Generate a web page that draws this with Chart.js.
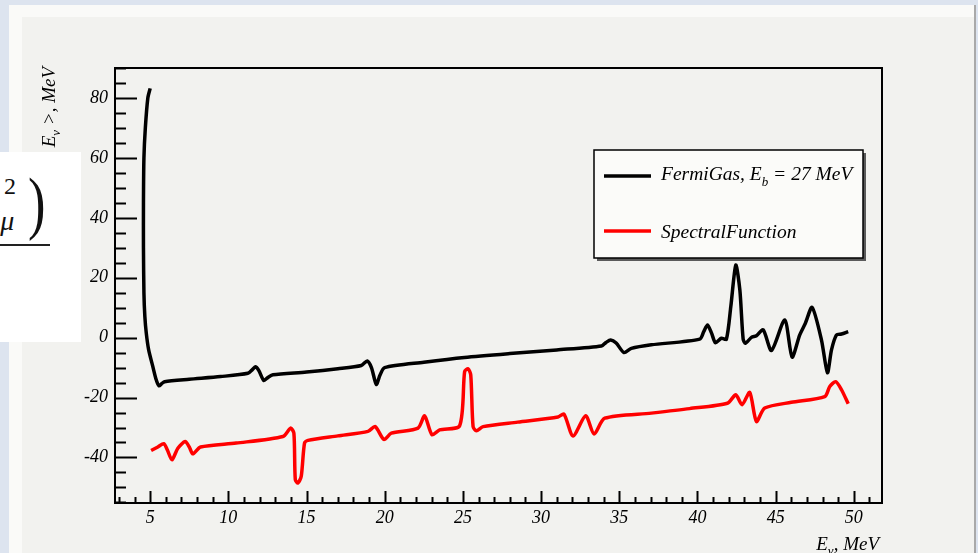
<!DOCTYPE html>
<html><head><meta charset="utf-8">
<script src="https://cdn.jsdelivr.net/npm/chart.js@4.4.1/dist/chart.umd.min.js"></script>
<style>
html,body{margin:0;padding:0;}
body{background:#dde4ef;width:978px;height:553px;overflow:hidden;position:relative;}
#panel{position:absolute;left:9px;top:5px;width:966px;height:548px;background:#fafaf8;}
#inner{position:absolute;left:22px;top:17px;width:952px;height:536px;background:#f2f2ef;}
#rbar{position:absolute;left:974px;top:5px;width:2px;height:548px;background:#a9a9a9;}
#cv{position:absolute;left:0;top:0;}
#ov{position:absolute;left:0;top:152px;width:81px;height:190px;background:#fff;overflow:hidden;font-family:"Liberation Serif",serif;color:#111;}
#ov span{position:absolute;line-height:1;white-space:nowrap;}
#ov .fr{position:absolute;left:0;top:92px;width:50px;height:1.5px;background:#222;}
</style>
</head><body>
<div id="panel"></div><div id="inner"></div><div id="rbar"></div>
<canvas id="cv" width="978" height="553"></canvas>
<div id="ov">
  <span style="left:4px;top:22px;font-size:24px;">2</span>
  <span style="left:-9px;top:55px;font-size:28px;">(<i>μ</i></span>
  <span style="left:25px;top:16px;font-size:70px;transform:scaleX(0.75);">)</span>
  <div class="fr"></div>
</div>
<script>
// ---- data ----
const fermiX = [5.0,4.85,4.69,4.6,4.57,4.57,4.6,4.66,4.75,4.9,5.17,5.38,5.56,5.75,5.92,7.5,9.5,11.25,11.55,11.74,11.95,12.27,12.55,12.85,15,17,18.5,18.88,19.15,19.46,19.7,19.99,22.5,25.1,28,31,33.86,34.15,34.45,34.8,35.3,35.77,37.05,40.14,40.4,40.64,40.9,41.15,41.53,41.85,42.13,42.45,42.71,42.92,43.07,43.45,43.77,44.2,44.73,45.58,46.05,46.54,46.9,47.33,47.93,48.31,48.57,48.89,49.21,49.64];
const fermiY = [83.2,80,70,60,45,30,15,7,1.5,-4,-9.7,-14,-16.1,-15.3,-14.7,-13.9,-13,-11.9,-10.6,-9.7,-11,-14.3,-13.2,-12.4,-11.5,-10.4,-9.3,-7.8,-10,-15.6,-12.5,-10,-8.2,-6.6,-5.3,-4.1,-2.8,-1.6,-0.8,-1.8,-5,-3.6,-2.4,-0.5,2,4.2,1.5,-1.7,-0.2,-0.5,10.3,24.2,15.9,-0.5,-1.9,0.1,0.6,2.6,-4.3,5.9,-6.5,0.9,4.8,10.1,-0.8,-11.7,-4.1,0.9,1.2,2.0];
const spectralX = [5.06,5.49,5.87,6.1,6.39,6.77,7.24,7.5,7.73,8.22,10.5,13.49,13.98,14.19,14.28,14.45,14.66,14.87,15.09,17,18.93,19.39,19.95,20.42,22.13,22.55,23.02,23.51,24.79,25.11,25.33,25.5,25.65,25.86,26.29,28.5,31.08,31.46,32.04,32.85,33.39,34.07,37.05,39.5,41.91,42.45,42.85,43.34,43.77,44.3,46,48.14,48.46,48.84,49.21,49.64];
const spectralY = [-37.7,-36.5,-35.4,-37.5,-40.8,-36.9,-34.7,-36.5,-38.8,-36.5,-35.2,-33,-30.2,-31.9,-47.4,-48.5,-46.3,-35.2,-34.3,-32.8,-31.3,-29.7,-34,-31.9,-30.2,-26.1,-32.4,-30.8,-29.4,-11.3,-10.4,-12.4,-29.7,-31.1,-29.7,-28.2,-26.5,-25.5,-32.8,-26.1,-32.2,-26.9,-25.2,-23.7,-21.9,-19.1,-22.4,-18.3,-28,-23.5,-21.6,-19.7,-16.3,-14.7,-17.4,-22.1];
const xTickLabels = [5,10,15,20,25,30,35,40,45,50];
const yTickLabels = [-40,-20,0,20,40,60,80];
const seriesNames = ["FermiGas, E", "SpectralFunction"];
const xTitle = "E";
const yTitle = "< E";

const SERIF = '"Liberation Serif", "Times New Roman", serif';
const toPts = (xs, ys) => xs.map((x, i) => ({x: x, y: ys[i]}));

function drawParts(ctx, parts, x, y, align) {
  let total = 0;
  parts.forEach(p => { ctx.font = 'italic ' + p[1] + 'px ' + SERIF; total += ctx.measureText(p[0]).width; });
  let cx = align === 'right' ? x - total : x;
  ctx.textAlign = 'left';
  parts.forEach(p => {
    ctx.font = 'italic ' + p[1] + 'px ' + SERIF;
    ctx.fillText(p[0], cx, y + p[2]);
    cx += ctx.measureText(p[0]).width;
  });
}

const rootStyle = {
  id: 'rootStyle',
  afterDraw(chart) {
    const ctx = chart.ctx, a = chart.chartArea;
    const xs = chart.scales.x, ys = chart.scales.y;
    ctx.save();
    ctx.strokeStyle = '#000';
    ctx.fillStyle = '#000';
    ctx.lineWidth = 2;
    ctx.strokeRect(a.left, a.top, a.right - a.left, a.bottom - a.top);
    ctx.beginPath();
    for (let v = Math.ceil(xs.min); v <= xs.max; v++) {
      const px = Math.round(xs.getPixelForValue(v)) + 0.5;
      const len = (v % 5 === 0) ? 12 : 6;
      ctx.moveTo(px, a.bottom); ctx.lineTo(px, a.bottom - len);
    }
    for (let v = Math.ceil(ys.min / 5) * 5; v <= ys.max; v += 5) {
      const py = Math.round(ys.getPixelForValue(v)) + 0.5;
      const len = (v % 20 === 0) ? 22 : 11;
      ctx.moveTo(a.left, py); ctx.lineTo(a.left + len, py);
    }
    ctx.stroke();

    const L = 594, T = 150, R = 863, B = 258;
    ctx.fillStyle = '#5a5a5a';
    ctx.fillRect(L + 3, T + 3, R - L, B - T);
    ctx.fillStyle = '#fbfbf9';
    ctx.fillRect(L, T, R - L, B - T);
    ctx.lineWidth = 1.5;
    ctx.strokeStyle = '#000';
    ctx.strokeRect(L, T, R - L, B - T);
    const ds = chart.data.datasets;
    ctx.lineWidth = 3.5;
    ctx.strokeStyle = ds[0].borderColor;
    ctx.beginPath(); ctx.moveTo(604, 176); ctx.lineTo(651, 176); ctx.stroke();
    ctx.strokeStyle = ds[1].borderColor;
    ctx.beginPath(); ctx.moveTo(604, 231); ctx.lineTo(651, 231); ctx.stroke();
    ctx.fillStyle = '#000';
    ctx.textBaseline = 'alphabetic';
    drawParts(ctx, [[seriesNames[0], 19.5, 0], ['b', 13, 6], [' = 27 MeV', 19.5, 0]], 661, 180, 'left');
    drawParts(ctx, [[seriesNames[1], 19.5, 0]], 661, 238, 'left');

    drawParts(ctx, [[xTitle, 19, 0], ['\u03BD', 13, 5], [', MeV', 19, 0]], 879, 550, 'right');
    ctx.translate(55, 67);
    ctx.rotate(-Math.PI / 2);
    drawParts(ctx, [[yTitle, 19, 0], ['\u03BD', 13, 5], [' >, MeV', 19, 0]], 0, 0, 'right');
    ctx.restore();
  }
};

const tickFont = {family: SERIF, style: 'italic', size: 18};

new Chart(document.getElementById('cv'), {
  type: 'scatter',
  data: {
    datasets: [
      {label: 'FermiGas, Eb = 27 MeV', data: toPts(fermiX, fermiY), showLine: true, borderColor: '#000000', borderWidth: 3.5, pointRadius: 0, tension: 0.25, fill: false},
      {label: 'SpectralFunction', data: toPts(spectralX, spectralY), showLine: true, borderColor: '#ff0000', borderWidth: 3.5, pointRadius: 0, tension: 0.25, fill: false}
    ]
  },
  options: {
    responsive: false,
    animation: false,
    layout: {padding: {top: 68, right: 96, left: 0, bottom: 0}},
    plugins: {legend: {display: false}, tooltip: {enabled: false}},
    scales: {
      x: {
        type: 'linear', min: 2.75, max: 51.8,
        afterBuildTicks: s => { s.ticks = xTickLabels.map(v => ({value: v})); },
        afterFit: s => { s.height = 50; },
        grid: {display: false, drawTicks: false},
        border: {display: false},
        ticks: {font: tickFont, color: '#000', padding: 4, maxRotation: 0, autoSkip: false, callback: v => String(v)}
      },
      y: {
        type: 'linear', min: -55.2, max: 90,
        afterBuildTicks: s => { s.ticks = yTickLabels.map(v => ({value: v})); },
        afterFit: s => { s.width = 115; },
        grid: {display: false, drawTicks: false},
        border: {display: false},
        ticks: {font: tickFont, color: '#000', padding: 7, autoSkip: false, callback: v => String(v)}
      }
    }
  },
  plugins: [rootStyle]
});
</script>
</body></html>
